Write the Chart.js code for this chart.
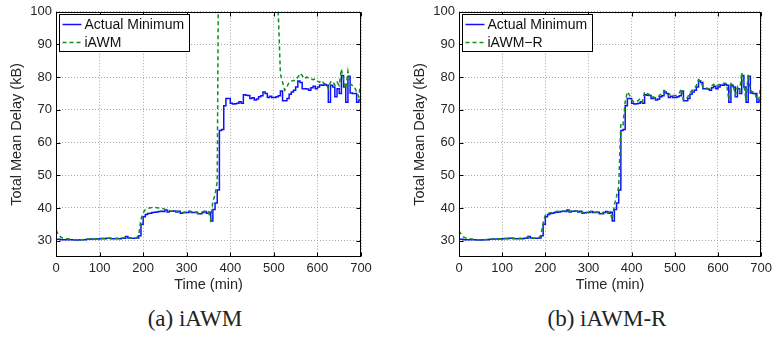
<!DOCTYPE html>
<html>
<head>
<meta charset="utf-8">
<title>Total Mean Delay</title>
<script src="https://cdn.jsdelivr.net/npm/chart.js@4.4.0/dist/chart.umd.min.js"></script>
<style>
  body { margin: 0; background: #fff; width: 776px; height: 338px; position: relative; overflow: hidden; }
  .panel { position: absolute; top: 0; }
  .caption { position: absolute; top: 306px; width: 220px; text-align: center;
             font-family: "Liberation Serif", "DejaVu Serif", serif; font-size: 23px; color: #222; }
</style>
</head>
<body>
<div class="panel" style="left:0"><canvas id="chartA" width="390" height="300"></canvas></div>
<div class="panel" style="left:390px"><canvas id="chartB" width="386" height="300"></canvas></div>
<div class="caption" style="left:85px">(a) iAWM</div>
<div class="caption" style="left:497px">(b) iAWM-R</div>

<script>
// time samples (min)
const timeMin = [
  0, 5, 10, 15, 20, 25, 30, 35, 40, 45,
  50, 55, 60, 65, 70, 75, 80, 85, 90, 95,
  100, 105, 110, 115, 120, 125, 130, 135, 140, 145,
  150, 155, 160, 165, 170, 175, 180, 185, 190, 195,
  200, 205, 210, 215, 220, 225, 230, 235, 240, 245,
  250, 255, 260, 265, 270, 275, 280, 285, 290, 295,
  300, 305, 310, 315, 320, 325, 330, 335, 340, 345,
  350, 355, 360, 365, 370, 375, 380, 385, 390, 395,
  400, 405, 410, 415, 420, 425, 430, 435, 440, 445,
  450, 455, 460, 465, 470, 475, 480, 485, 490, 495,
  500, 505, 510, 515, 520, 525, 530, 535, 540, 545,
  550, 555, 560, 565, 570, 575, 580, 585, 590, 595,
  600, 605, 610, 615, 620, 625, 630, 635, 640, 645,
  650, 655, 660, 665, 670, 675, 680, 685, 690, 695,
  700
];

// total mean delay (kB)
const actualMinimum = [
  30.4, 30.4, 30.3, 30.3, 30.3, 30.3, 30.3, 30.3, 30.2, 30.2,
  30.2, 30.3, 30.3, 30.3, 30.4, 30.4, 30.5, 30.5, 30.5, 30.5,
  30.6, 30.6, 30.6, 30.7, 30.7, 30.6, 30.6, 30.6, 30.6, 30.6,
  30.7, 30.7, 31.3, 30.8, 30.7, 30.7, 30.7, 30.8, 31.5, 35.0,
  37.3, 38.0, 38.3, 38.4, 38.6, 38.7, 38.8, 38.9, 39.0, 38.9,
  39.4, 38.8, 39.0, 39.0, 39.1, 38.8, 39.0, 38.4, 38.5, 38.6,
  38.6, 38.9, 38.6, 38.6, 38.7, 38.2, 38.2, 38.6, 38.9, 38.4,
  38.7, 36.0, 39.5, 41.5, 45.5, 63.7, 64.0, 71.3, 73.5, 73.5,
  72.0, 71.8, 71.9, 72.0, 72.5, 72.0, 74.6, 74.5, 74.4, 73.5,
  73.7, 73.0, 73.3, 74.0, 74.3, 75.5, 75.0, 73.8, 74.2, 73.8,
  73.8, 74.0, 74.3, 75.8, 72.8, 72.8, 73.5, 74.8, 75.5, 76.0,
  77.0, 78.8, 78.4, 76.5, 76.5, 76.4, 76.0, 76.8, 77.2, 76.5,
  77.0, 77.6, 77.5, 77.8, 77.5, 72.3, 77.5, 77.0, 74.0, 76.5,
  75.0, 80.5, 77.0, 72.3, 80.3, 75.2, 75.0, 75.0, 72.3, 73.0,
  77.5
];

// iAWM estimate; runs off the top of the axis between ~375 and ~510 min
const iawm = [
  33.2, 32.0, 31.2, 30.8, 30.7, 30.6, 30.5, 30.4, 30.3, 30.3,
  30.3, 30.3, 30.3, 30.4, 30.4, 30.5, 30.5, 30.5, 30.6, 30.6,
  30.6, 30.7, 30.7, 30.7, 30.7, 30.7, 30.7, 30.7, 30.7, 30.7,
  30.8, 30.8, 31.2, 30.9, 30.8, 30.7, 30.7, 30.8, 31.8, 36.5,
  38.5, 39.5, 39.8, 40.0, 40.1, 40.2, 40.1, 40.0, 40.0, 39.8,
  39.6, 39.2, 39.2, 39.0, 39.1, 38.9, 39.0, 38.6, 38.6, 38.7,
  38.8, 39.1, 38.8, 38.7, 38.8, 38.4, 38.3, 38.7, 39.0, 38.6,
  38.8, 36.5, 42.0, 44.0, 48.0, 160, 160, 160, 160, 160,
  160, 160, 160, 160, 160, 160, 160, 160, 160, 160,
  160, 160, 160, 160, 160, 160, 160, 160, 160, 160,
  160, 160, 100, 81.0, 78.5, 76.0, 77.0, 78.5, 78.8, 79.0,
  79.0, 80.0, 81.2, 80.5, 79.5, 80.0, 79.8, 79.5, 79.2, 79.5,
  78.8, 78.5, 79.0, 78.0, 78.0, 76.5, 78.5, 78.8, 77.5, 78.5,
  77.5, 82.5, 79.0, 76.5, 81.8, 78.0, 77.5, 77.0, 75.5, 74.0,
  79.0
];

// iAWM-R estimate
const iawmR = [
  33.0, 32.0, 31.2, 30.8, 30.7, 30.6, 30.5, 30.4, 30.3, 30.3,
  30.3, 30.3, 30.3, 30.4, 30.4, 30.5, 30.5, 30.5, 30.6, 30.6,
  30.6, 30.7, 30.7, 30.7, 30.7, 30.7, 30.7, 30.7, 30.7, 30.7,
  30.8, 30.8, 31.3, 30.9, 30.8, 30.7, 30.7, 30.8, 31.8, 35.5,
  37.8, 38.3, 38.5, 38.6, 38.8, 38.9, 39.0, 39.0, 39.1, 39.0,
  39.5, 38.9, 39.1, 39.1, 39.2, 38.9, 39.1, 38.6, 38.6, 38.7,
  38.7, 39.0, 38.7, 38.7, 38.8, 38.3, 38.3, 38.7, 39.0, 38.5,
  38.8, 36.3, 41.0, 43.5, 46.5, 66.0, 65.5, 72.5, 75.5, 74.5,
  73.0, 72.5, 72.5, 72.8, 73.5, 72.5, 75.5, 75.0, 74.8, 74.0,
  74.0, 73.5, 73.8, 74.5, 75.0, 76.0, 75.5, 74.5, 75.0, 74.5,
  74.3, 74.5, 75.0, 76.5, 73.0, 73.0, 74.0, 75.3, 76.0, 76.5,
  77.5, 79.3, 78.8, 77.0, 76.8, 76.6, 76.5, 77.3, 77.8, 77.0,
  77.5, 78.0, 78.0, 78.2, 78.0, 73.0, 78.0, 77.5, 74.5, 77.0,
  75.5, 81.5, 77.5, 73.0, 81.0, 76.0, 75.5, 75.5, 73.0, 73.5,
  78.5
];

const xTicks = [0, 100, 200, 300, 400, 500, 600, 700];
const yTicks = [30, 40, 50, 60, 70, 80, 90, 100];

const toPoints = (ys) => timeMin.map((t, i) => ({ x: t, y: ys[i] }));

const sansFont = '"Liberation Sans", Arial, sans-serif';
const tickColor = '#262626';

// box around the plot area, inward tick marks and a boxed legend in the top-left corner
const matlabFrame = {
  id: 'matlabFrame',
  afterDatasetsDraw(chart) {
    const { ctx, chartArea: a, scales } = chart;
    const L = Math.round(a.left) + 0.5, R = Math.round(a.right) - 0.5;
    const T = Math.round(a.top) + 0.5, B = Math.round(a.bottom) - 0.5;
    ctx.save();
    ctx.strokeStyle = '#000';
    ctx.lineWidth = 1;
    ctx.setLineDash([]);
    ctx.strokeRect(L, T, R - L, B - T);

    const tl = 4;
    ctx.beginPath();
    xTicks.forEach(v => {
      const px = Math.round(scales.x.getPixelForValue(v)) + 0.5;
      ctx.moveTo(px, B); ctx.lineTo(px, B - tl);
      ctx.moveTo(px, T); ctx.lineTo(px, T + tl);
    });
    yTicks.forEach(v => {
      const py = Math.round(scales.y.getPixelForValue(v)) + 0.5;
      ctx.moveTo(L, py); ctx.lineTo(L + tl, py);
      ctx.moveTo(R, py); ctx.lineTo(R - tl, py);
    });
    ctx.stroke();

    // legend
    const bx = L + 3, by = T + 2, bw = 130, bh = 37;
    ctx.fillStyle = '#fff';
    ctx.fillRect(bx, by, bw, bh);
    ctx.strokeRect(bx, by, bw, bh);
    ctx.font = '14px ' + sansFont;
    ctx.textBaseline = 'middle';
    chart.data.datasets.forEach((ds, i) => {
      const cy = by + 10 + i * 18;
      ctx.strokeStyle = ds.borderColor;
      ctx.lineWidth = ds.borderWidth;
      ctx.setLineDash(ds.borderDash || []);
      ctx.beginPath();
      ctx.moveTo(bx + 3, cy); ctx.lineTo(bx + 22, cy);
      ctx.stroke();
      ctx.fillStyle = '#111';
      ctx.fillText(ds.label, bx + 25, cy + 1);
    });
    ctx.restore();
  }
};

function makeChart(canvasId, estLabel, estValues, padLeft, padRight) {
  return new Chart(document.getElementById(canvasId), {
    type: 'line',
    data: {
      datasets: [
        {
          label: 'Actual Minimum',
          data: toPoints(actualMinimum),
          borderColor: '#1010ff',
          borderWidth: 1.5,
          stepped: true,
          pointRadius: 0,
          order: 1
        },
        {
          label: estLabel,
          data: toPoints(estValues),
          borderColor: '#10901a',
          borderWidth: 1.5,
          borderDash: [4, 3],
          pointRadius: 0,
          order: 0
        }
      ]
    },
    options: {
      responsive: false,
      animation: false,
      events: [],
      layout: { padding: { left: padLeft, right: padRight, top: 11, bottom: 0 } },
      plugins: { legend: { display: false }, tooltip: { enabled: false } },
      scales: {
        x: {
          type: 'linear',
          min: 0,
          max: 700,
          afterBuildTicks: (scale) => { scale.ticks = xTicks.map(v => ({ value: v })); },
          afterFit: (scale) => { scale.height = 43; },
          grid: { color: '#a8a8a8', drawTicks: false },
          border: { display: false, dash: [1, 2] },
          ticks: { font: { family: sansFont, size: 13 }, color: tickColor, padding: 4, maxRotation: 0 },
          title: {
            display: true,
            text: 'Time (min)',
            font: { family: sansFont, size: 14.5 },
            color: tickColor,
            padding: { top: 0, bottom: 6 }
          }
        },
        y: {
          type: 'linear',
          min: 25,
          max: 100,
          afterBuildTicks: (scale) => { scale.ticks = yTicks.map(v => ({ value: v })); },
          afterFit: (scale) => { scale.width = 56; },
          grid: { color: '#a8a8a8', drawTicks: false },
          border: { display: false, dash: [1, 2] },
          ticks: { font: { family: sansFont, size: 13 }, color: tickColor, padding: 4 },
          title: {
            display: true,
            text: 'Total Mean Delay (kB)',
            font: { family: sansFont, size: 14.5 },
            color: tickColor,
            padding: { top: 8, bottom: 0 }
          }
        }
      }
    },
    plugins: [matlabFrame]
  });
}

makeChart('chartA', 'iAWM', iawm, 0, 29);
makeChart('chartB', 'iAWM\u2212R', iawmR, 13, 12);
</script>
</body>
</html>
